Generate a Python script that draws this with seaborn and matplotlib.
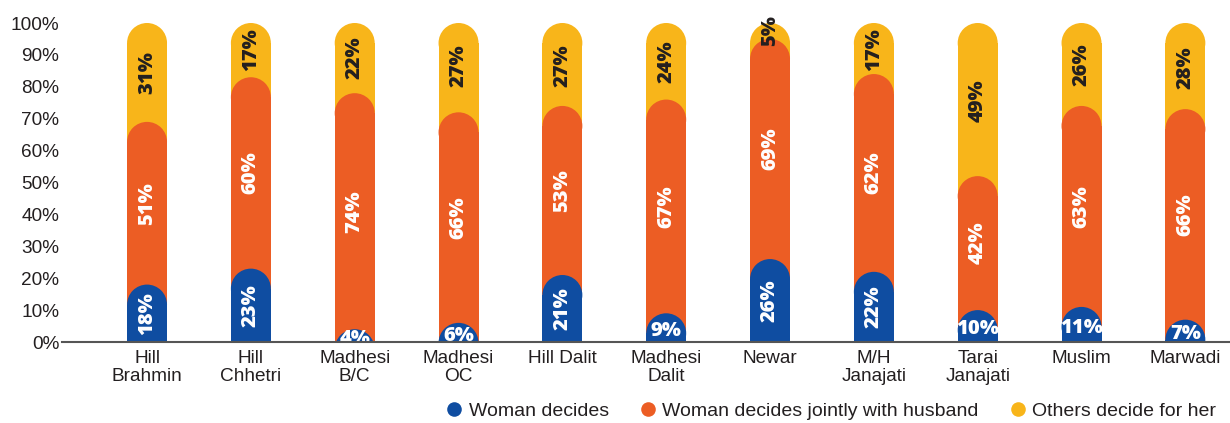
import matplotlib
matplotlib.use("Agg")
import matplotlib.pyplot as plt
import seaborn as sns
import numpy as np
import pandas as pd
from matplotlib.patches import Ellipse
from matplotlib.lines import Line2D

categories = ["Hill\nBrahmin", "Hill\nChhetri", "Madhesi\nB/C", "Madhesi\nOC", "Hill Dalit",
              "Madhesi\nDalit", "Newar", "M/H\nJanajati", "Tarai\nJanajati", "Muslim", "Marwadi"]
woman_decides = [18, 23, 4, 6, 21, 9, 26, 22, 10, 11, 7]
jointly = [51, 60, 74, 66, 53, 67, 69, 62, 42, 63, 66]
others = [31, 17, 22, 27, 27, 24, 5, 17, 49, 26, 28]
series_names = ["Woman decides", "Woman decides jointly with husband", "Others decide for her"]
yticks = list(range(0, 101, 10))

BLUE = "#0F4DA1"
ORANGE = "#EC5D24"
YELLOW = "#F8B51A"
DARK = "#231F20"

sns.set_theme(style="white")
plt.rcParams["font.family"] = ["Liberation Sans", "DejaVu Sans"]

fig = plt.figure(figsize=(12.3, 4.23), dpi=100)
ax = fig.add_axes([62 / 1230, (423 - 342) / 423, 1 - 62 / 1230, (342 - 23) / 423])

b = np.array(woman_decides, dtype=float)
j = np.array(jointly, dtype=float)
o = np.array(others, dtype=float)
tops = [np.full(len(categories), 100.0), b + j, b]
colors = [YELLOW, ORANGE, BLUE]
BW = 0.385

layers = []
for k, (vals, col) in enumerate(zip(tops, colors)):
    n_before = len(ax.patches)
    df = pd.DataFrame({"cat": categories, "val": vals})
    sns.barplot(data=df, x="cat", y="val", color=col, saturation=1, width=BW,
                errorbar=None, ax=ax, linewidth=0, zorder=k + 1)
    layers.append((ax.patches[n_before:], col, k + 1))

ax.set_xlim(-0.819, 10.43)
ax.set_ylim(0, 100)

# rounded caps
fig.canvas.draw()
p0 = ax.transData.transform((0, 0))
px_x = ax.transData.transform((BW / 2, 0))[0] - p0[0]
px_per_y = ax.transData.transform((0, 1))[1] - p0[1]
ry = px_x / px_per_y
for patches, col, z in layers:
    for p in patches:
        h = p.get_height()
        x = p.get_x()
        w = p.get_width()
        p.set_height(max(h - ry, 0))
        p.set_zorder(z)
        e = Ellipse((x + w / 2, h - ry), w, 2 * ry, facecolor=col, edgecolor="none", zorder=z + 0.01)
        ax.add_patch(e)

lab_font = dict(family=["Open Sans", "DejaVu Sans"], weight="heavy", fontsize=14.5)
for i in range(len(categories)):
    # blue
    if b[i] >= 15:
        ax.text(i, b[i] / 2, f"{int(b[i])}%", rotation=90, ha="center", va="center",
                color="white", zorder=10, **lab_font)
    else:
        ax.text(i, b[i] / 2 - 1.0, f"{int(b[i])}%", ha="center", va="center",
                color="white", zorder=10, clip_on=True, **lab_font)
    ax.text(i, b[i] + j[i] / 2, f"{int(j[i])}%", rotation=90, ha="center", va="center",
            color="white", zorder=10, **lab_font)
    ax.text(i, 100 - o[i] / 2, f"{int(o[i])}%", rotation=90, ha="center", va="center",
            color=DARK, zorder=10, **lab_font)

ax.set_yticks(yticks)
ax.set_yticklabels([f"{t}%" for t in yticks])
ax.set_xlabel("")
ax.set_ylabel("")
for s in ["top", "right", "left"]:
    ax.spines[s].set_visible(False)
ax.spines["bottom"].set_color("#555555")
ax.spines["bottom"].set_linewidth(1.5)
ax.spines["bottom"].set_zorder(20)
ax.tick_params(axis="both", length=0, labelsize=13.7, colors=DARK)
ax.tick_params(axis="y", pad=2)
ax.tick_params(axis="x", pad=6)
for t in ax.get_xticklabels():
    t.set_linespacing(1.05)

handles = [Line2D([], [], marker="o", linestyle="none", markersize=10.5, markerfacecolor=c,
                  markeredgecolor="none") for c in [BLUE, ORANGE, YELLOW]]
fig.legend(handles, series_names, loc="lower right", bbox_to_anchor=(1.003, -0.035), ncol=3,
           frameon=False, fontsize=14, handletextpad=0.25, columnspacing=1.5, handlelength=1.0,
           labelcolor=DARK)

fig.savefig("out.png", dpi=100)
